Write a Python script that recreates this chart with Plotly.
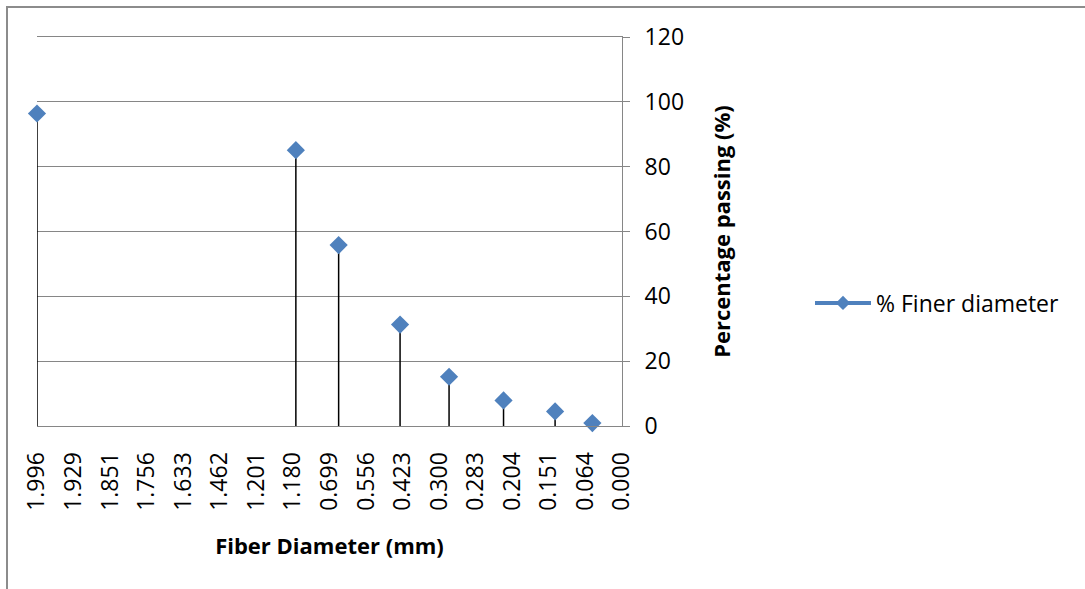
import plotly.graph_objects as go

# Category tick labels along the x axis (fiber diameter, mm)
tick_labels = ["1.996", "1.929", "1.851", "1.756", "1.633", "1.462", "1.201", "1.180",
               "0.699", "0.556", "0.423", "0.300", "0.283", "0.204", "0.151", "0.064", "0.000"]

# Measured points: diameter label, position along the axis (in category units), % passing
point_diameters = ["1.996", "1.180", "0.699", "0.423", "0.300", "0.204", "0.151", "0.064"]
point_positions = [0, 7.08, 8.25, 9.93, 11.27, 12.76, 14.17, 15.19]
percent_finer = [96.4, 85.1, 55.8, 31.3, 15.2, 7.9, 4.5, 0.9]

series_name = "% Finer diameter"
blue = "#4F81BD"
grey = "#868686"
font_family = "Open Sans"

W, H = 1085, 589
L, R, T, B = 37, 463, 37, 163
PW, PH = W - L - R, H - T - B

fig = go.Figure()

fig.add_trace(go.Scatter(
    x=point_positions,
    y=percent_finer,
    text=point_diameters,
    mode="markers",
    marker=dict(symbol="diamond", size=14, color=blue),
    error_y=dict(type="data", symmetric=False,
                 array=[0] * len(percent_finer), arrayminus=percent_finer,
                 color="black", thickness=1.5, width=0),
    cliponaxis=False,
    showlegend=False,
    hovertemplate="%{text} mm: %{y}%<extra></extra>",
))

# legend entry (line + diamond, as in the original legend)
fig.add_trace(go.Scatter(
    x=[None], y=[None],
    mode="lines+markers",
    name=series_name,
    line=dict(color=blue, width=4),
    marker=dict(symbol="diamond", size=11, color=blue),
))

fig.update_layout(
    width=W, height=H,
    margin=dict(l=L, r=R, t=T, b=B),
    paper_bgcolor="white",
    plot_bgcolor="white",
    font=dict(family=font_family, size=23, color="black"),
    showlegend=True,
    legend=dict(
        x=(810 - L) / PW, y=(H - B - 303) / PH,
        xanchor="left", yanchor="middle",
        itemwidth=56,
        font=dict(family=font_family, size=23, color="black"),
        bgcolor="rgba(0,0,0,0)",
    ),
    xaxis=dict(
        range=[0, len(tick_labels) - 1],
        tickmode="array",
        tickvals=list(range(len(tick_labels))),
        ticktext=tick_labels,
        tickangle=-90,
        ticks="",
        showgrid=False,
        zeroline=False,
        showline=True,
        mirror=True,
        linecolor=grey,
        linewidth=1,
        ticklabelstandoff=16,
        title=dict(text="<b>Fiber Diameter (mm)</b>",
                   font=dict(family=font_family, size=22, color="black"),
                   standoff=28),
    ),
    yaxis=dict(
        side="right",
        range=[0, 120],
        dtick=20,
        showgrid=True,
        gridcolor=grey,
        gridwidth=1,
        zeroline=False,
        showline=True,
        linecolor=grey,
        linewidth=1,
        ticks="outside",
        ticklen=7,
        tickcolor=grey,
        ticklabelstandoff=10,
        title=dict(text="<b>Percentage passing (%)</b>",
                   font=dict(family=font_family, size=22, color="black"),
                   standoff=31),
    ),
    shapes=[dict(
        type="rect", xref="paper", yref="paper",
        x0=(7 - L) / PW, x1=(W + 20 - L) / PW,
        y0=(H - B - (H + 20)) / PH, y1=(H - B - 7) / PH,
        line=dict(color="#8c8c8c", width=2),
        fillcolor="rgba(0,0,0,0)",
        layer="below",
    )],
)

fig.write_html("out.html")
